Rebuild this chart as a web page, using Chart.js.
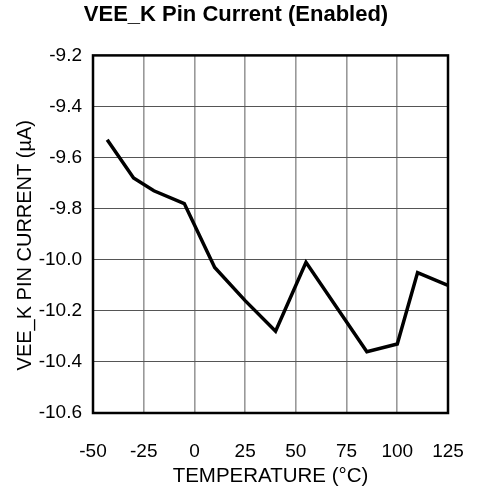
<!DOCTYPE html>
<html>
<head>
<meta charset="utf-8">
<script src="https://cdn.jsdelivr.net/npm/chart.js@4/dist/chart.umd.min.js"></script>
<style>
html,body{margin:0;padding:0;background:#fff;}
#wrap{width:477px;height:490px;}
</style>
</head>
<body>
<div id="wrap"><canvas id="chartVee" width="477" height="490"></canvas></div>
<script>
// data
const tempC=[-43,-30,-20,-5,10,25,40,55,85,100,110,125];
const pinCurrent=[-9.53,-9.68,-9.73,-9.78,-10.03,-10.16,-10.28,-10.01,-10.36,-10.33,-10.05,-10.10];
const xTicks=[-50,-25,0,25,50,75,100,125];
const yTicks=[-9.2,-9.4,-9.6,-9.8,-10.0,-10.2,-10.4,-10.6];
const yTitle='VEE_K PIN CURRENT (µA)';

Chart.defaults.font.family="'Liberation Sans',Arial,sans-serif";
Chart.defaults.color='#000';

// full frame round the plot (top + right sides too) and the y title,
// which sits a bit below the middle of the axis in the original
const frame={
  id:'frame',
  afterDatasetsDraw(chart){
    const a=chart.chartArea,c=chart.ctx;
    c.save();
    c.strokeStyle='#000';c.lineWidth=2.5;
    c.strokeRect(a.left,a.top,a.right-a.left,a.bottom-a.top);
    c.translate(25,(a.top+a.bottom)/2+11);
    c.rotate(-Math.PI/2);
    c.font="20px 'Liberation Sans',Arial,sans-serif";
    c.fillStyle='#000';c.textAlign='center';c.textBaseline='middle';
    c.fillText(yTitle,0,0);
    c.restore();
  }
};

new Chart(document.getElementById('chartVee'),{
  type:'line',
  data:{
    datasets:[{
      data:tempC.map((t,i)=>({x:t,y:pinCurrent[i]})),
      borderColor:'#000',borderWidth:3.5,pointRadius:0,tension:0,fill:false
    }]
  },
  options:{
    responsive:false,animation:false,
    layout:{padding:{left:0,right:5,top:0,bottom:0}},
    plugins:{
      legend:{display:false},tooltip:{enabled:false},
      title:{display:true,text:'VEE_K Pin Current (Enabled)',color:'#000',
        font:{size:22,weight:'bold'},padding:{top:2,bottom:27}}
    },
    scales:{
      x:{type:'linear',min:-50,max:125,
        afterBuildTicks:s=>{s.ticks=xTicks.map(v=>({value:v}));},
        afterFit:s=>{s.height=77;s.paddingRight=29;},
        grid:{color:'#999',lineWidth:1.6,drawTicks:false},
        border:{display:false},
        ticks:{font:{size:19},padding:27,maxRotation:0,callback:v=>v},
        title:{display:true,text:'TEMPERATURE (°C)',font:{size:20.5},padding:{top:0,bottom:1}}
      },
      y:{type:'linear',min:-10.6,max:-9.2,
        afterBuildTicks:s=>{s.ticks=yTicks.map(v=>({value:v}));},
        afterFit:s=>{s.width=93;},
        grid:{color:'#555',lineWidth:1,drawTicks:false},
        border:{display:false},
        ticks:{font:{size:19},padding:11,callback:v=>v.toFixed(1)},
        title:{display:false}
      }
    }
  },
  plugins:[frame]
});
</script>
</body>
</html>
